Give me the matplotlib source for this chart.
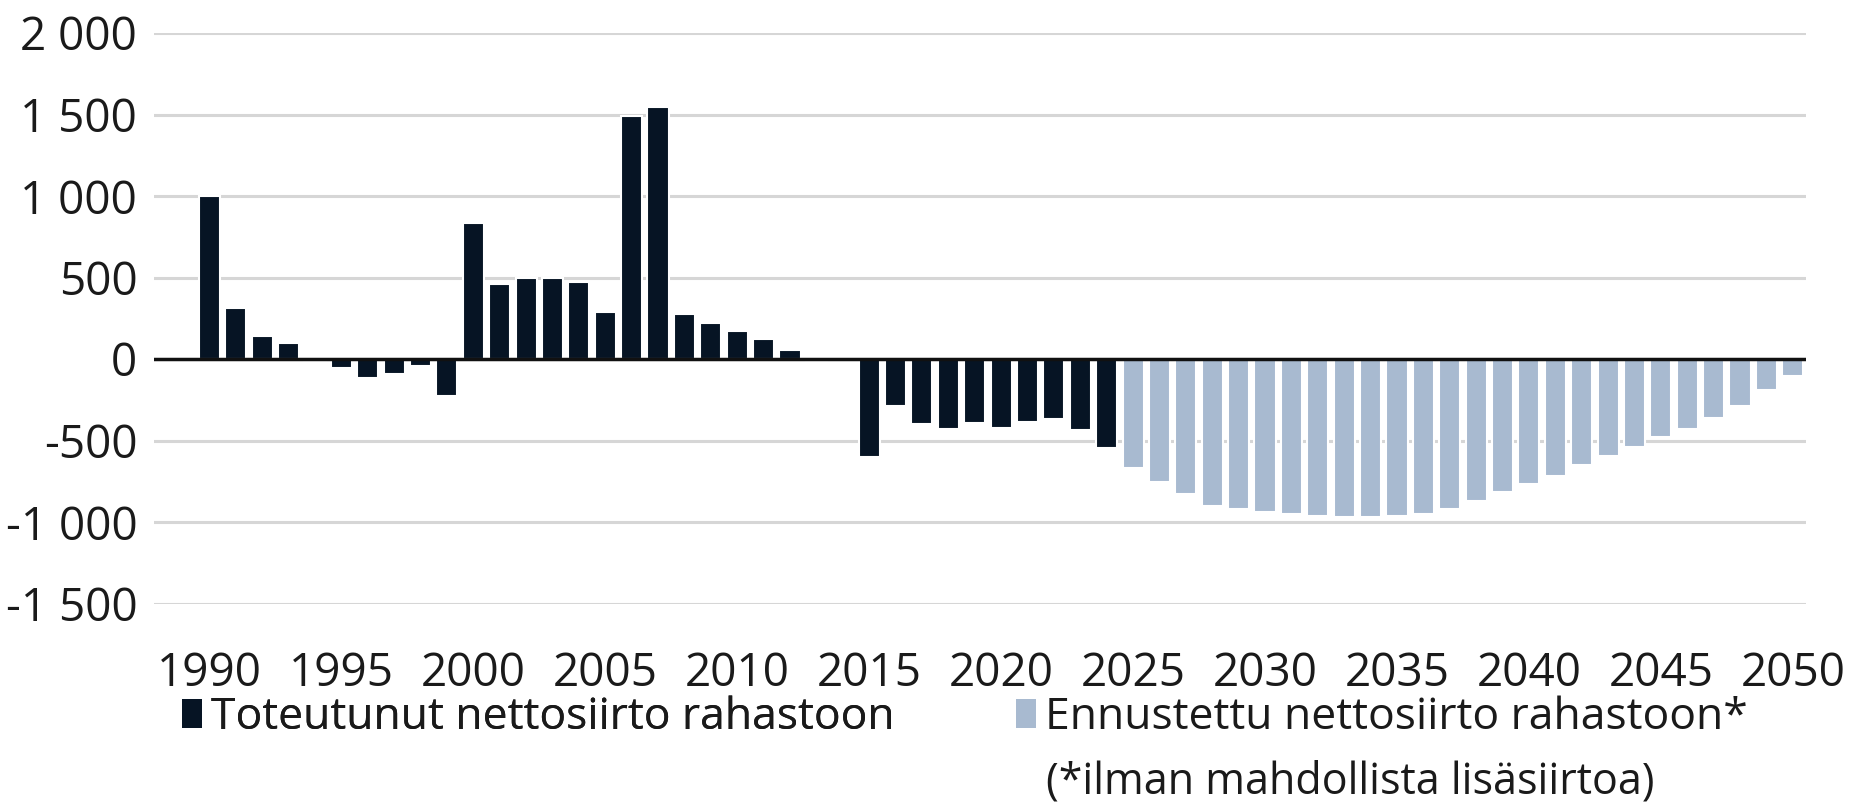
import numpy as np
import matplotlib
matplotlib.use("Agg")
import matplotlib.pyplot as plt
from matplotlib.patches import Patch
from matplotlib.ticker import FuncFormatter

# ── Data ────────────────────────────────────────────────────────────────────
years_actual = list(range(1990, 2025))
actual = [1000, 310, 140, 100, -15, -57, -115, -92, -43, -227,
          832, 458, 495, 495, 472, 290, 1492, 1543, 274, 223,
          172, 121, 55, -20, -3, -600, -291, -398, -429, -392,
          -425, -389, -366, -433, -545]

years_forecast = list(range(2025, 2051))
forecast = [-668, -756, -826, -903, -920, -936, -953, -961, -969, -969,
            -965, -948, -920, -869, -818, -766, -715, -650, -597, -542,
            -480, -427, -362, -290, -192, -107]

x_ticks = list(range(1990, 2051, 5))
y_ticks = [-1500, -1000, -500, 0, 500, 1000, 1500, 2000]

label_actual = "Toteutunut nettosiirto rahastoon"
label_forecast = "Ennustettu nettosiirto rahastoon*"
footnote = "(*ilman mahdollista lisäsiirtoa)"

DARK = "#061424"
LIGHT = "#a8bad0"
GRID = "#d6d6d6"
TEXT = "#1a1a1a"

plt.rcParams["font.family"] = ["Open Sans", "DejaVu Sans"]

# ── Plot ────────────────────────────────────────────────────────────────────
W, H = 1855, 808
fig = plt.figure(figsize=(W / 100, H / 100), dpi=100)
ax = fig.add_axes([154 / W, 1 - 603.5 / H, (1806 - 154) / W, (603.5 - 33) / H])

ax.bar(years_actual, actual, width=0.8, color=DARK, edgecolor="white",
       linewidth=1.5, zorder=2)
ax.bar(years_forecast, forecast, width=0.8, color=LIGHT, edgecolor="white",
       linewidth=1.5, zorder=2)
ax.axhline(0, color="#111111", linewidth=2.5, zorder=3)

ax.set_xlim(1987.9, 2050.5)
ax.set_ylim(-1500, 2000)
ax.set_yticks(y_ticks)
ax.set_xticks(x_ticks)
ax.yaxis.set_major_formatter(
    FuncFormatter(lambda v, p: f"{int(v):,}".replace(",", " ")))
ax.grid(axis="y", color=GRID, linewidth=2.2, zorder=0)
ax.set_axisbelow(True)
for s in ax.spines.values():
    s.set_visible(False)
ax.tick_params(axis="both", length=0, labelsize=33, colors=TEXT)
ax.tick_params(axis="y", pad=12)
ax.tick_params(axis="x", pad=34)

# legend: one entry per call so each can be placed where the reference has it
leg_kw = dict(loc="center left", frameon=False, fontsize=32,
              handlelength=0.45, handleheight=0.62, handletextpad=0.2,
              borderpad=0, borderaxespad=0, labelcolor=TEXT)
leg1 = fig.legend(handles=[Patch(facecolor=DARK, label=label_actual)],
                  bbox_to_anchor=(182 / W, 1 - 718 / H), **leg_kw)
fig.add_artist(leg1)
fig.legend(handles=[Patch(facecolor=LIGHT, label=label_forecast)],
           bbox_to_anchor=(1016 / W, 1 - 718 / H), **leg_kw)
fig.text(1046 / W, 1 - 782 / H, footnote, fontsize=31, color=TEXT,
         ha="left", va="center")

fig.savefig("out.png", dpi=100, facecolor="white")
plt.close(fig)
